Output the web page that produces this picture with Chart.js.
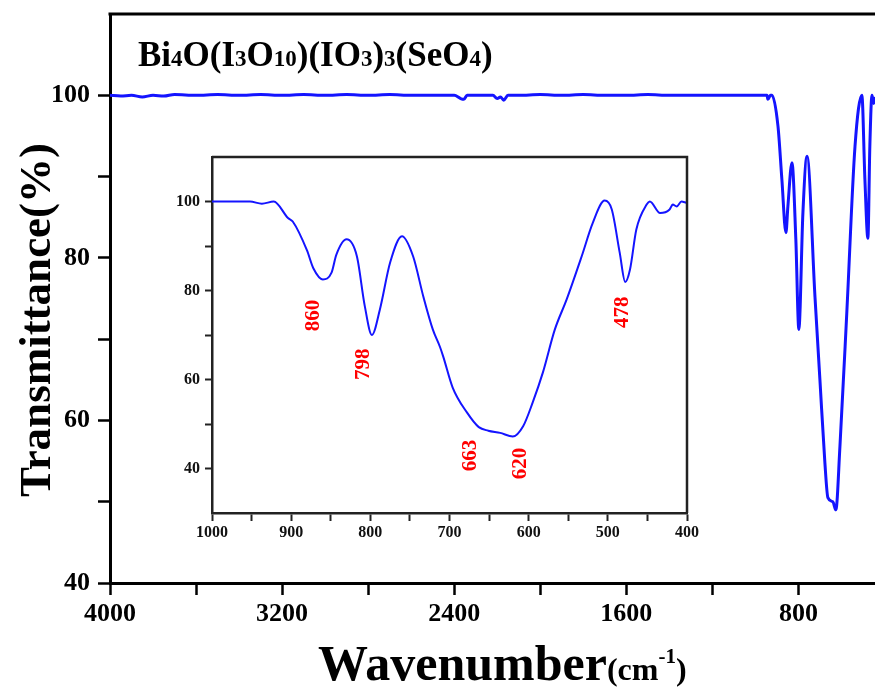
<!DOCTYPE html>
<html lang="en">
<head>
  <meta charset="UTF-8" />
  <title>FTIR spectrum</title>
  <script src="https://cdn.jsdelivr.net/npm/chart.js"></script>
  <style>
    html, body { margin: 0; padding: 0; background: #fff; overflow: hidden; }
    #wrap { position: relative; width: 875px; height: 688px; }
    #mainChart { position: absolute; left: 0; top: 0; }
    #insetChart { position: absolute; left: 150px; top: 150px; }
  </style>
</head>
<body>
<div id="wrap">
  <canvas id="mainChart" width="875" height="688"></canvas>
  <canvas id="insetChart" width="551" height="400"></canvas>
</div>

<script>
  // full spectrum
  const mainWavenumber = [4000, 3950, 3900, 3850, 3800, 3750, 3700, 3600, 3500, 3400, 3300, 3200, 3100, 3000,
    2900, 2800, 2700, 2600, 2500, 2400, 2370, 2355, 2340, 2300, 2220, 2200, 2185, 2170, 2150, 2100, 2000,
    1900, 1800, 1700, 1600, 1500, 1400, 1300, 1200, 1100, 1000, 960, 946, 942, 930, 923, 895, 877, 858,
    849, 830, 812, 798, 779, 760, 723, 700, 677, 663, 640, 626, 607, 575, 537, 505, 491, 477, 468, 458, 450, 444];
  const mainTransmittance = [100, 99.9, 100, 99.8, 100, 99.9, 100.1, 100, 100.1, 100, 100.1, 100, 100.1, 100,
    100.1, 100, 100.1, 100, 100, 100, 99.6, 99.5, 100, 100, 100, 99.6, 99.8, 99.4, 100, 100, 100.1,
    100, 100.1, 100, 100, 100.1, 100, 100, 100, 100, 100, 100, 100, 99.5, 100, 100, 96.2, 89.7, 83.1,
    86.3, 91.7, 82.3, 71.2, 85.6, 92.5, 75.2, 65, 54.8, 50.5, 50, 49, 56.8, 73.3, 93.7, 100, 89.7, 82.4, 93.7, 100, 99, 99.8];

  // 1000-400 region
  const insetWavenumber = [1000, 952, 937, 922, 904, 898, 880, 872, 860, 849, 843, 830, 817, 807, 798, 788,
    775, 760, 746, 733, 721, 712, 708, 696, 678, 663, 651, 636, 620, 607, 595, 582, 567, 552, 533, 519,
    504, 495, 485, 478, 472, 464, 451, 447, 434, 422, 418, 413, 407, 401];
  const insetTransmittance = [100, 100, 99.5, 100, 96.3, 95.5, 89, 85, 82.5, 84, 88, 91.5, 87.7, 76.5, 70, 75.7,
    86.3, 92.2, 87.7, 78.6, 71.2, 67.3, 65.2, 58.2, 52.6, 49.3, 48.5, 48, 47.2, 49.5, 54.8, 61.6, 71.2, 78, 87.7, 95.2,
    100.2, 98.2, 88.5, 81.9, 84.7, 93.7, 99.3, 100, 97.4, 98.2, 99.3, 98.9, 100, 99.7];

  const mainXTicks = [4000, 3600, 3200, 2800, 2400, 2000, 1600, 1200, 800];
  const mainYTicks = [40, 50, 60, 70, 80, 90, 100];
  const insetXTicks = [1000, 950, 900, 850, 800, 750, 700, 650, 600, 550, 500, 450, 400];
  const insetYTicks = [40, 50, 60, 70, 80, 90, 100];

  // peak labels in the inset, anchored in data coordinates
  const peakLabels = ['860', '798', '663', '620', '478'];
  const peakLabelX = [872, 809, 673, 610, 482];
  const peakLabelY = [74.4, 63.4, 42.9, 41.1, 75.1];

  const SERIF = "'Liberation Serif', 'Times New Roman', serif";
  const BLUE = '#1414ff';

  function toPoints(xs, ys) {
    return xs.map((x, i) => ({ x: x, y: ys[i] }));
  }

  // draws a run of [text, size, raise] pieces left to right
  function drawRuns(ctx, runs, x, y) {
    runs.forEach(([txt, size, raise]) => {
      ctx.font = 'bold ' + size + 'px ' + SERIF;
      ctx.fillText(txt, x, y - raise);
      x += ctx.measureText(txt).width;
    });
  }

  // stop the scales from reserving room for their end labels
  function noEdgePad(s) {
    s.paddingTop = 0;
    s.paddingBottom = 0;
  }

  const mainDecor = {
    id: 'mainDecor',
    afterDraw(chart) {
      const ctx = chart.ctx;
      const a = chart.chartArea;
      ctx.save();
      // top frame line
      ctx.strokeStyle = '#000';
      ctx.lineWidth = 3;
      ctx.beginPath();
      ctx.moveTo(a.left - 1.5, a.top);
      ctx.lineTo(chart.width, a.top);
      ctx.stroke();

      ctx.fillStyle = '#000';
      ctx.textBaseline = 'alphabetic';
      ctx.textAlign = 'left';
      drawRuns(ctx, [['Bi', 35, 0], ['4', 23, 0], ['O(I', 35, 0], ['3', 23, 0], ['O', 35, 0], ['10', 23, 0],
        [')(IO', 35, 0], ['3', 23, 0], [')', 35, 0], ['3', 23, 0], ['(SeO', 35, 0], ['4', 23, 0], [')', 35, 0]], 138, 66);

      drawRuns(ctx, [['Wavenumber', 50, 0], ['(cm', 32, 0], ['-1', 21, 17], [')', 32, 0]], 318, 680);

      ctx.translate(50, 320);
      ctx.rotate(-Math.PI / 2);
      ctx.textAlign = 'center';
      ctx.font = 'bold 45px ' + SERIF;
      ctx.fillText('Transmittance(%)', 0, 0);
      ctx.restore();
    }
  };

  const insetDecor = {
    id: 'insetDecor',
    afterDraw(chart) {
      const ctx = chart.ctx;
      const a = chart.chartArea;
      const xs = chart.scales.x, ys = chart.scales.y;
      ctx.save();
      ctx.strokeStyle = '#222';
      ctx.lineWidth = 2.5;
      ctx.beginPath();
      ctx.moveTo(a.left, a.top);
      ctx.lineTo(a.right, a.top);
      ctx.lineTo(a.right, a.bottom);
      ctx.stroke();

      ctx.fillStyle = '#ff0000';
      ctx.font = 'bold 21px ' + SERIF;
      ctx.textAlign = 'center';
      ctx.textBaseline = 'middle';
      peakLabels.forEach((lbl, i) => {
        ctx.save();
        ctx.translate(xs.getPixelForValue(peakLabelX[i]), ys.getPixelForValue(peakLabelY[i]));
        ctx.rotate(-Math.PI / 2);
        ctx.fillText(lbl, 0, 0);
        ctx.restore();
      });
      ctx.restore();
    }
  };

  new Chart(document.getElementById('mainChart'), {
    type: 'scatter',
    data: {
      datasets: [{
        data: toPoints(mainWavenumber, mainTransmittance),
        showLine: true,
        borderColor: BLUE,
        borderWidth: 3,
        pointRadius: 0,
        cubicInterpolationMode: 'monotone'
      }]
    },
    options: {
      responsive: false,
      animation: false,
      layout: { padding: { left: 0, top: 14, right: 0, bottom: 0 } },
      plugins: { legend: { display: false }, tooltip: { enabled: false } },
      scales: {
        x: {
          type: 'linear',
          reverse: true,
          min: 444,
          max: 4000,
          afterBuildTicks: s => { s.ticks = mainXTicks.map(v => ({ value: v })); },
          afterFit: s => { s.height = 105; },
          grid: { drawOnChartArea: false, tickLength: 12, tickWidth: 2.5, tickColor: '#000' },
          border: { display: true, width: 3, color: '#000' },
          ticks: {
            autoSkip: false, maxRotation: 0, padding: 4, color: '#000',
            font: { family: SERIF, size: 26, weight: 'bold' },
            callback: v => (v % 800 === 0 ? String(v) : '')
          }
        },
        y: {
          min: 40,
          max: 110,
          afterBuildTicks: s => { s.ticks = mainYTicks.map(v => ({ value: v })); },
          afterFit: s => { s.width = 110; noEdgePad(s); },
          grid: { drawOnChartArea: false, tickLength: 12, tickWidth: 2.5, tickColor: '#000' },
          border: { display: true, width: 3, color: '#000' },
          ticks: {
            autoSkip: false, padding: 8, color: '#000',
            font: { family: SERIF, size: 26, weight: 'bold' },
            callback: v => (v % 20 === 0 ? String(v) : '')
          }
        }
      }
    },
    plugins: [mainDecor]
  });

  new Chart(document.getElementById('insetChart'), {
    type: 'scatter',
    data: {
      datasets: [{
        data: toPoints(insetWavenumber, insetTransmittance),
        showLine: true,
        borderColor: BLUE,
        borderWidth: 2,
        pointRadius: 0,
        cubicInterpolationMode: 'monotone'
      }]
    },
    options: {
      responsive: false,
      animation: false,
      layout: { padding: { left: 0, top: 7, right: 14, bottom: 0 } },
      plugins: { legend: { display: false }, tooltip: { enabled: false } },
      scales: {
        x: {
          type: 'linear',
          reverse: true,
          min: 400,
          max: 1000,
          afterBuildTicks: s => { s.ticks = insetXTicks.map(v => ({ value: v })); },
          afterFit: s => { s.height = 37; },
          grid: { drawOnChartArea: false, tickLength: 8, tickWidth: 2, tickColor: '#222' },
          border: { display: true, width: 2.5, color: '#222' },
          ticks: {
            autoSkip: false, maxRotation: 0, padding: 2, color: '#111',
            font: { family: SERIF, size: 16, weight: 'bold' },
            callback: v => (v % 100 === 0 ? String(v) : '')
          }
        },
        y: {
          min: 30,
          max: 110,
          afterBuildTicks: s => { s.ticks = insetYTicks.map(v => ({ value: v })); },
          afterFit: s => { s.width = 62; noEdgePad(s); },
          grid: { drawOnChartArea: false, tickLength: 7, tickWidth: 2, tickColor: '#222' },
          border: { display: true, width: 2.5, color: '#222' },
          ticks: {
            autoSkip: false, padding: 5, color: '#111',
            font: { family: SERIF, size: 16, weight: 'bold' },
            callback: v => (v % 20 === 0 ? String(v) : '')
          }
        }
      }
    },
    plugins: [insetDecor]
  });
</script>
</body>
</html>
